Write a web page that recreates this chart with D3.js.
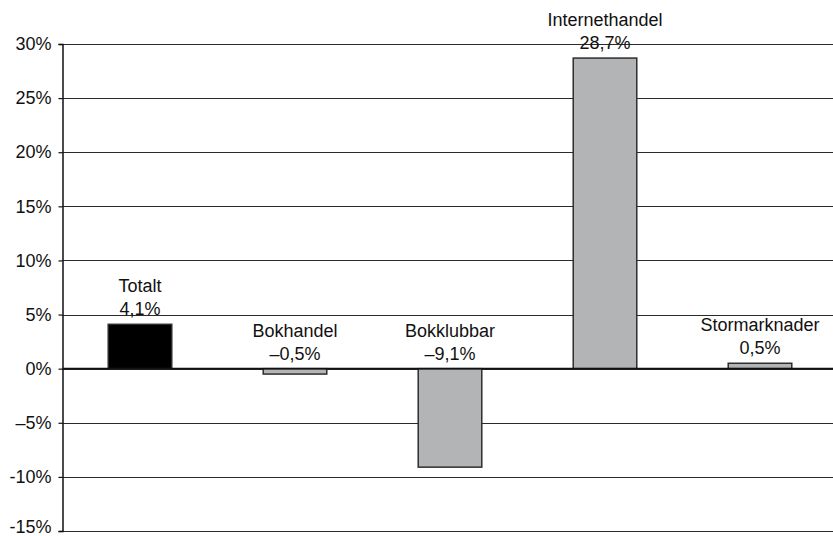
<!DOCTYPE html>
<html lang="sv">
<head>
<meta charset="UTF-8">
<title>Förändring per kanal</title>
<script src="https://cdnjs.cloudflare.com/ajax/libs/d3/7.8.5/d3.min.js"></script>
<style>
    body { margin: 0; background: #fff; }
    svg text { font-family: "Liberation Sans", Arial, sans-serif; font-size: 18px; fill: #111; }
</style>
</head>
<body>
<svg width="833" height="536"></svg>
<script>
    // data
    const categories = ["Totalt", "Bokhandel", "Bokklubbar", "Internethandel", "Stormarknader"];
    const values = [4.1, -0.5, -9.1, 28.7, 0.5];
    const valueLabels = ["4,1%", "–0,5%", "–9,1%", "28,7%", "0,5%"];
    const tickValues = [30, 25, 20, 15, 10, 5, 0, -5, -10, -15];
    const tickLabels = ["30%", "25%", "20%", "15%", "10%", "5%", "0%", "–5%", "-10%", "-15%"];

    const svg = d3.select("svg");
    const plotLeft = 62.5, plotRight = 837.5, plotTop = 44, plotBottom = 531;

    const x = d3.scaleBand()
        .domain(categories)
        .range([plotLeft, plotRight])
        .paddingInner(0.59)
        .paddingOuter(0.295);

    const y = d3.scaleLinear()
        .domain([-15, 30])
        .range([plotBottom, plotTop]);

    // gridlines
    svg.append("g")
        .selectAll("line")
        .data(tickValues)
        .join("line")
        .attr("x1", plotLeft)
        .attr("x2", plotRight)
        .attr("y1", d => Math.round(y(d)) + 0.5)
        .attr("y2", d => Math.round(y(d)) + 0.5)
        .attr("stroke", "#2a2a2a")
        .attr("stroke-width", 1.2);

    // y axis
    const yAxis = d3.axisLeft(y)
        .tickValues(tickValues)
        .tickFormat((d, i) => tickLabels[i])
        .tickSize(4)
        .tickPadding(7);

    const gy = svg.append("g")
        .attr("transform", `translate(${plotLeft},0)`)
        .call(yAxis);
    gy.attr("font-size", null).attr("font-family", null);
    gy.select(".domain").attr("stroke", "#111").attr("stroke-width", 1.5);
    gy.selectAll(".tick line").attr("stroke", "#111").attr("stroke-width", 1.2);
    gy.selectAll(".tick text").attr("fill", null);
    // lowest label sits a little higher so it stays inside the frame
    gy.selectAll(".tick text").filter(d => d === -15).attr("y", -4);

    // bars
    svg.append("g")
        .selectAll("rect")
        .data(categories)
        .join("rect")
        .attr("x", d => x(d))
        .attr("width", x.bandwidth())
        .attr("y", (d, i) => y(Math.max(values[i], 0)))
        .attr("height", (d, i) => Math.abs(y(values[i]) - y(0)))
        .attr("fill", (d, i) => i === 0 ? "#000" : "#b3b4b5")
        .attr("stroke", "#2e2e2e")
        .attr("stroke-width", 1.5);

    // zero line on top
    svg.append("line")
        .attr("x1", plotLeft)
        .attr("x2", plotRight)
        .attr("y1", y(0))
        .attr("y2", y(0))
        .attr("stroke", "#111")
        .attr("stroke-width", 1.6);

    // labels
    const labels = svg.append("g")
        .selectAll("g")
        .data(categories)
        .join("g")
        .attr("transform", (d, i) => `translate(${x(d) + x.bandwidth() / 2},${y(Math.max(values[i], 0)) - 9})`);

    labels.append("text")
        .attr("text-anchor", "middle")
        .text((d, i) => valueLabels[i]);

    labels.append("text")
        .attr("text-anchor", "middle")
        .attr("y", -23)
        .text(d => d);
</script>
</body>
</html>
